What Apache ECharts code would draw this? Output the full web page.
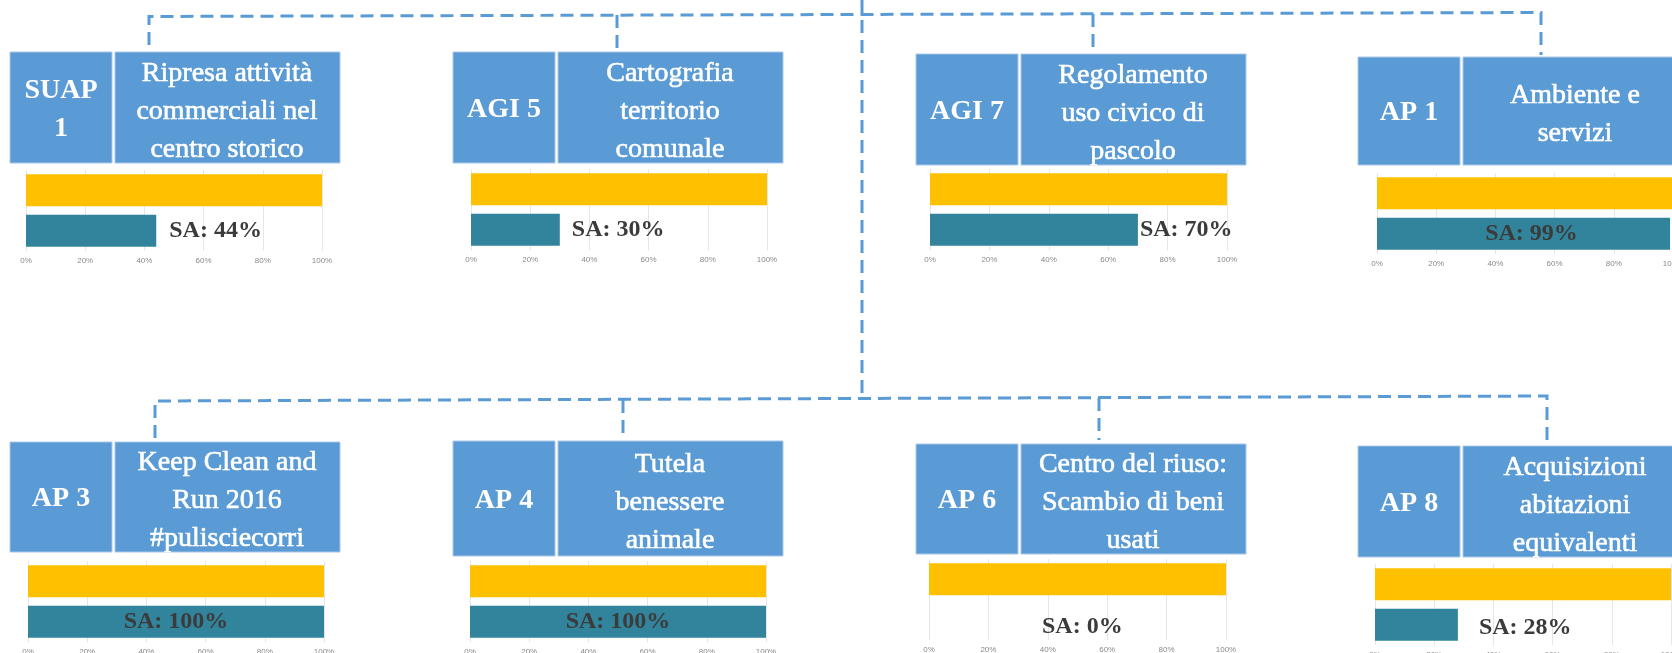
<!DOCTYPE html>
<html>
<head>
<meta charset="utf-8">
<title>Stato di avanzamento progetti</title>
<script src="https://cdn.jsdelivr.net/npm/echarts@6/dist/echarts.min.js"></script>
<style>
  html, body { margin: 0; padding: 0; background: #fff; overflow: hidden; }
  #chart { width: 1672px; height: 653px; }
</style>
</head>
<body>
<div id="chart"></div>
<script>
// dati
const codes = ['SUAP\n1', 'AGI 5', 'AGI 7', 'AP 1', 'AP 3', 'AP 4', 'AP 6', 'AP 8'];
const titles = [
  'Ripresa attività\ncommerciali nel\ncentro storico',
  'Cartografia\nterritorio\ncomunale',
  'Regolamento\nuso civico di\npascolo',
  'Ambiente e\nservizi',
  'Keep Clean and\nRun 2016\n#pulisciecorri',
  'Tutela\nbenessere\nanimale',
  'Centro del riuso:\nScambio di beni\nusati',
  'Acquisizioni\nabitazioni\nequivalenti'
];
const categories = ['Obiettivo', 'SA'];
const targetValues = [100, 100, 100, 100, 100, 100, 100, 100];
const saValues = [44, 30, 70, 99, 100, 100, 0, 28];
const tickValues = [0, 20, 40, 60, 80, 100];

// layout dei pannelli: box = [left, top, height], grid = [left, top, width]
const panels = [
  { box: [10, 52, 111], grid: [26, 170, 296], label: { position: 'right', distance: 13 } },
  { box: [453, 52, 111], grid: [471, 169, 296], label: { position: 'right', distance: 12 } },
  { box: [916, 54, 111], grid: [930, 169, 297], label: { position: 'right', distance: 2 } },
  { box: [1358, 57, 108], grid: [1377, 173, 296], label: { position: 'inside', offset: [8, 0] } },
  { box: [10, 442, 110], grid: [28, 561, 296], label: { position: 'inside' } },
  { box: [453, 441, 115], grid: [470, 561, 296], label: { position: 'inside' } },
  { box: [916, 444, 110], grid: [929, 559, 297], label: { position: 'right', distance: 113, offset: [0, 7] } },
  { box: [1358, 446, 111], grid: [1375, 564, 296], label: { position: 'right', distance: 21, offset: [0, 3] } }
];

const BLUE = '#5B9BD5';
const YELLOW = '#FFC000';
const TEAL = '#31849B';
const SERIF = '"Liberation Serif", "DejaVu Serif", serif';

const myChart = echarts.init(document.getElementById('chart'));

const grids = [], xAxes = [], yAxes = [], series = [], graphics = [];

panels.forEach((p, i) => {
  grids.push({
    left: p.grid[0], top: p.grid[1], width: p.grid[2], height: 81,
    containLabel: false, outerBoundsMode: 'none'
  });
  xAxes.push({
    type: 'value', gridIndex: i, min: tickValues[0], max: tickValues[tickValues.length - 1],
    interval: tickValues[1] - tickValues[0],
    axisLine: { show: false },
    axisTick: { show: false },
    splitLine: { show: true, lineStyle: { color: '#e6e6e6', width: 1 } },
    axisLabel: { formatter: '{value}%', fontSize: 8, color: '#8a8a8a', margin: 6, fontFamily: 'Liberation Sans' }
  });
  yAxes.push({ type: 'category', gridIndex: i, data: categories, inverse: true, show: false });
  series.push({
    type: 'bar', xAxisIndex: i, yAxisIndex: i, barWidth: 32, silent: true,
    data: [
      { value: targetValues[i], itemStyle: { color: YELLOW }, label: { show: false } },
      {
        value: saValues[i], itemStyle: { color: TEAL },
        label: Object.assign({
          show: true,
          formatter: (d) => 'SA: ' + d.value + '%',
          fontFamily: SERIF, fontWeight: 'bold', fontSize: 24, color: '#3b3b3b'
        }, p.label)
      }
    ]
  });

  // box codice + titolo
  const bx = p.box[0], by = p.box[1], bh = p.box[2];
  graphics.push({
    type: 'rect', shape: { x: bx, y: by, width: 102, height: bh },
    style: { fill: BLUE, stroke: '#a9c8e8', lineWidth: 1 }, z: 10
  });
  graphics.push({
    type: 'rect', shape: { x: bx + 105, y: by, width: 225, height: bh },
    style: { fill: BLUE, stroke: '#a9c8e8', lineWidth: 1 }, z: 10
  });
  graphics.push({
    type: 'text', z: 11,
    style: {
      text: codes[i], x: bx + 51, y: by + bh / 2 + 2, align: 'center', verticalAlign: 'middle',
      font: 'bold 28px ' + SERIF, lineHeight: 38, fill: '#fff'
    }
  });
  graphics.push({
    type: 'text', z: 11,
    style: {
      text: titles[i], x: bx + 105 + 112, y: by + bh / 2 + 4, align: 'center', verticalAlign: 'middle',
      font: '28px ' + SERIF, lineHeight: 38, fill: '#fff', stroke: '#fff', lineWidth: 0.6
    }
  });
});

// connettori tratteggiati
const dash = { stroke: BLUE, lineWidth: 3, lineDash: [13, 7], fill: null };
[
  [[149, 45], [149, 16.5], [1541, 12.5], [1541, 55]],
  [[617, 15], [617, 50]],
  [[1093, 14], [1093, 47]],
  [[862, 0], [862, 400]],
  [[155, 438], [155, 401], [1547, 396], [1547, 440]],
  [[623, 400], [623, 434]],
  [[1099, 398], [1099, 440]]
].forEach((pts) => {
  graphics.push({ type: 'polyline', shape: { points: pts }, style: dash, z: 5 });
});

const option = {
  backgroundColor: '#fff',
  animation: false,
  grid: grids,
  xAxis: xAxes,
  yAxis: yAxes,
  series: series,
  graphic: graphics
};
option && myChart.setOption(option, true);
</script>
</body>
</html>
